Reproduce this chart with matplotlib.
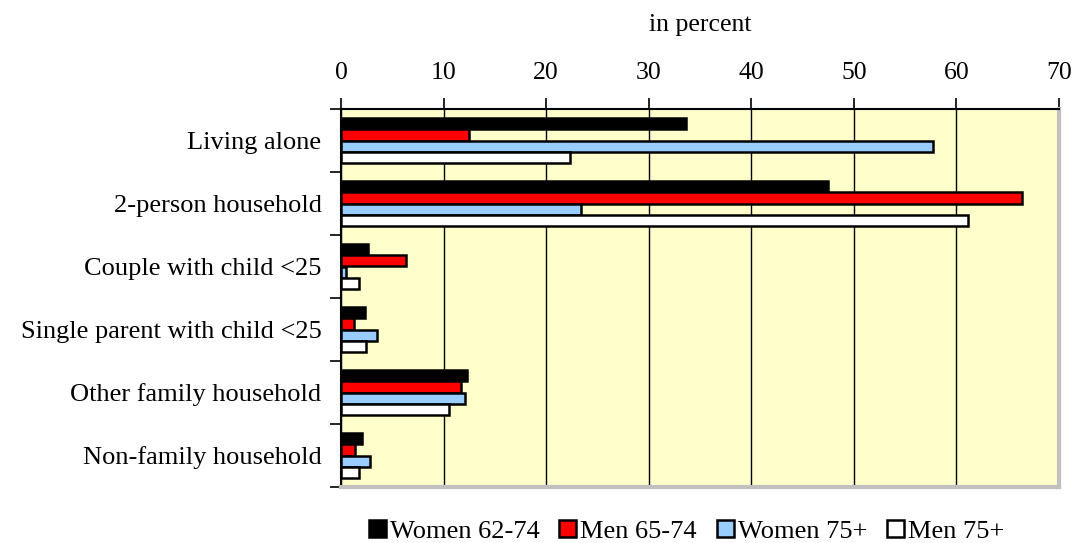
import matplotlib
matplotlib.use('Agg')
import matplotlib.pyplot as plt
import numpy as np
from matplotlib.patches import Patch

categories = ["Living alone", "2-person household", "Couple with child <25",
              "Single parent with child <25", "Other family household",
              "Non-family household"]
series = ["Women 62-74", "Men 65-74", "Women 75+", "Men 75+"]
women_62_74 = [33.6, 47.5, 2.6, 2.3, 12.3, 2.0]
men_65_74 = [12.5, 66.4, 6.3, 1.3, 11.7, 1.4]
women_75 = [57.7, 23.4, 0.5, 3.5, 12.1, 2.8]
men_75 = [22.3, 61.1, 1.8, 2.4, 10.5, 1.8]
colors = ["#000000", "#FF0000", "#99CCFF", "#FFFFFF"]
xticks = [0, 10, 20, 30, 40, 50, 60, 70]

plt.rcParams['font.family'] = ['Liberation Serif', 'DejaVu Serif']

fig = plt.figure(figsize=(10.76, 5.43), dpi=100)
ax = fig.add_axes([341 / 1076, 1 - 487 / 543, (1059 - 341) / 1076, (487 - 109) / 543])
ax.set_facecolor("#FFFFCC")

y = np.arange(len(categories))
h = 0.18
data = [women_62_74, men_65_74, women_75, men_75]
for i, (vals, c) in enumerate(zip(data, colors)):
    ax.barh(y + (i - 1.5) * h, vals, height=h, color=c, edgecolor="black",
            linewidth=1.8, zorder=3)

ax.set_xlim(0, 70)
ax.set_ylim(len(categories) - 0.5, -0.5)
ax.set_xticks(xticks)
ax.xaxis.tick_top()
ax.xaxis.set_label_position('top')
ax.set_xlabel("in percent", fontsize=18.5, labelpad=22)
ax.tick_params(axis='x', direction='out', length=8, width=1.2, pad=10,
               labelsize=18.5, colors='black')
ax.grid(axis='x', color='black', linewidth=1.0, zorder=1)

# category labels centred, tick marks on the group boundaries
ax.set_yticks(y)
ax.set_yticklabels(categories, fontsize=19)
ax.tick_params(axis='y', which='major', length=0, pad=14)
ax.set_yticks(np.arange(-0.5, len(categories), 1.0), minor=True)
ax.tick_params(axis='y', which='minor', direction='out', length=8, width=1.2)

ax.spines['top'].set_linewidth(1.5)
ax.spines['left'].set_linewidth(1.5)
for s in ('right', 'bottom'):
    ax.spines[s].set_color('#C0C0C0')
    ax.spines[s].set_linewidth(3)

handles = [Patch(facecolor=c, edgecolor='black', linewidth=1.8) for c in colors]
fig.legend(handles, series, loc='center', bbox_to_anchor=(0.638, 0.022), ncol=4,
           frameon=False, fontsize=19, handlelength=0.65, handleheight=0.65,
           handletextpad=0.15, columnspacing=0.75)

fig.savefig("out.png", dpi=100)
